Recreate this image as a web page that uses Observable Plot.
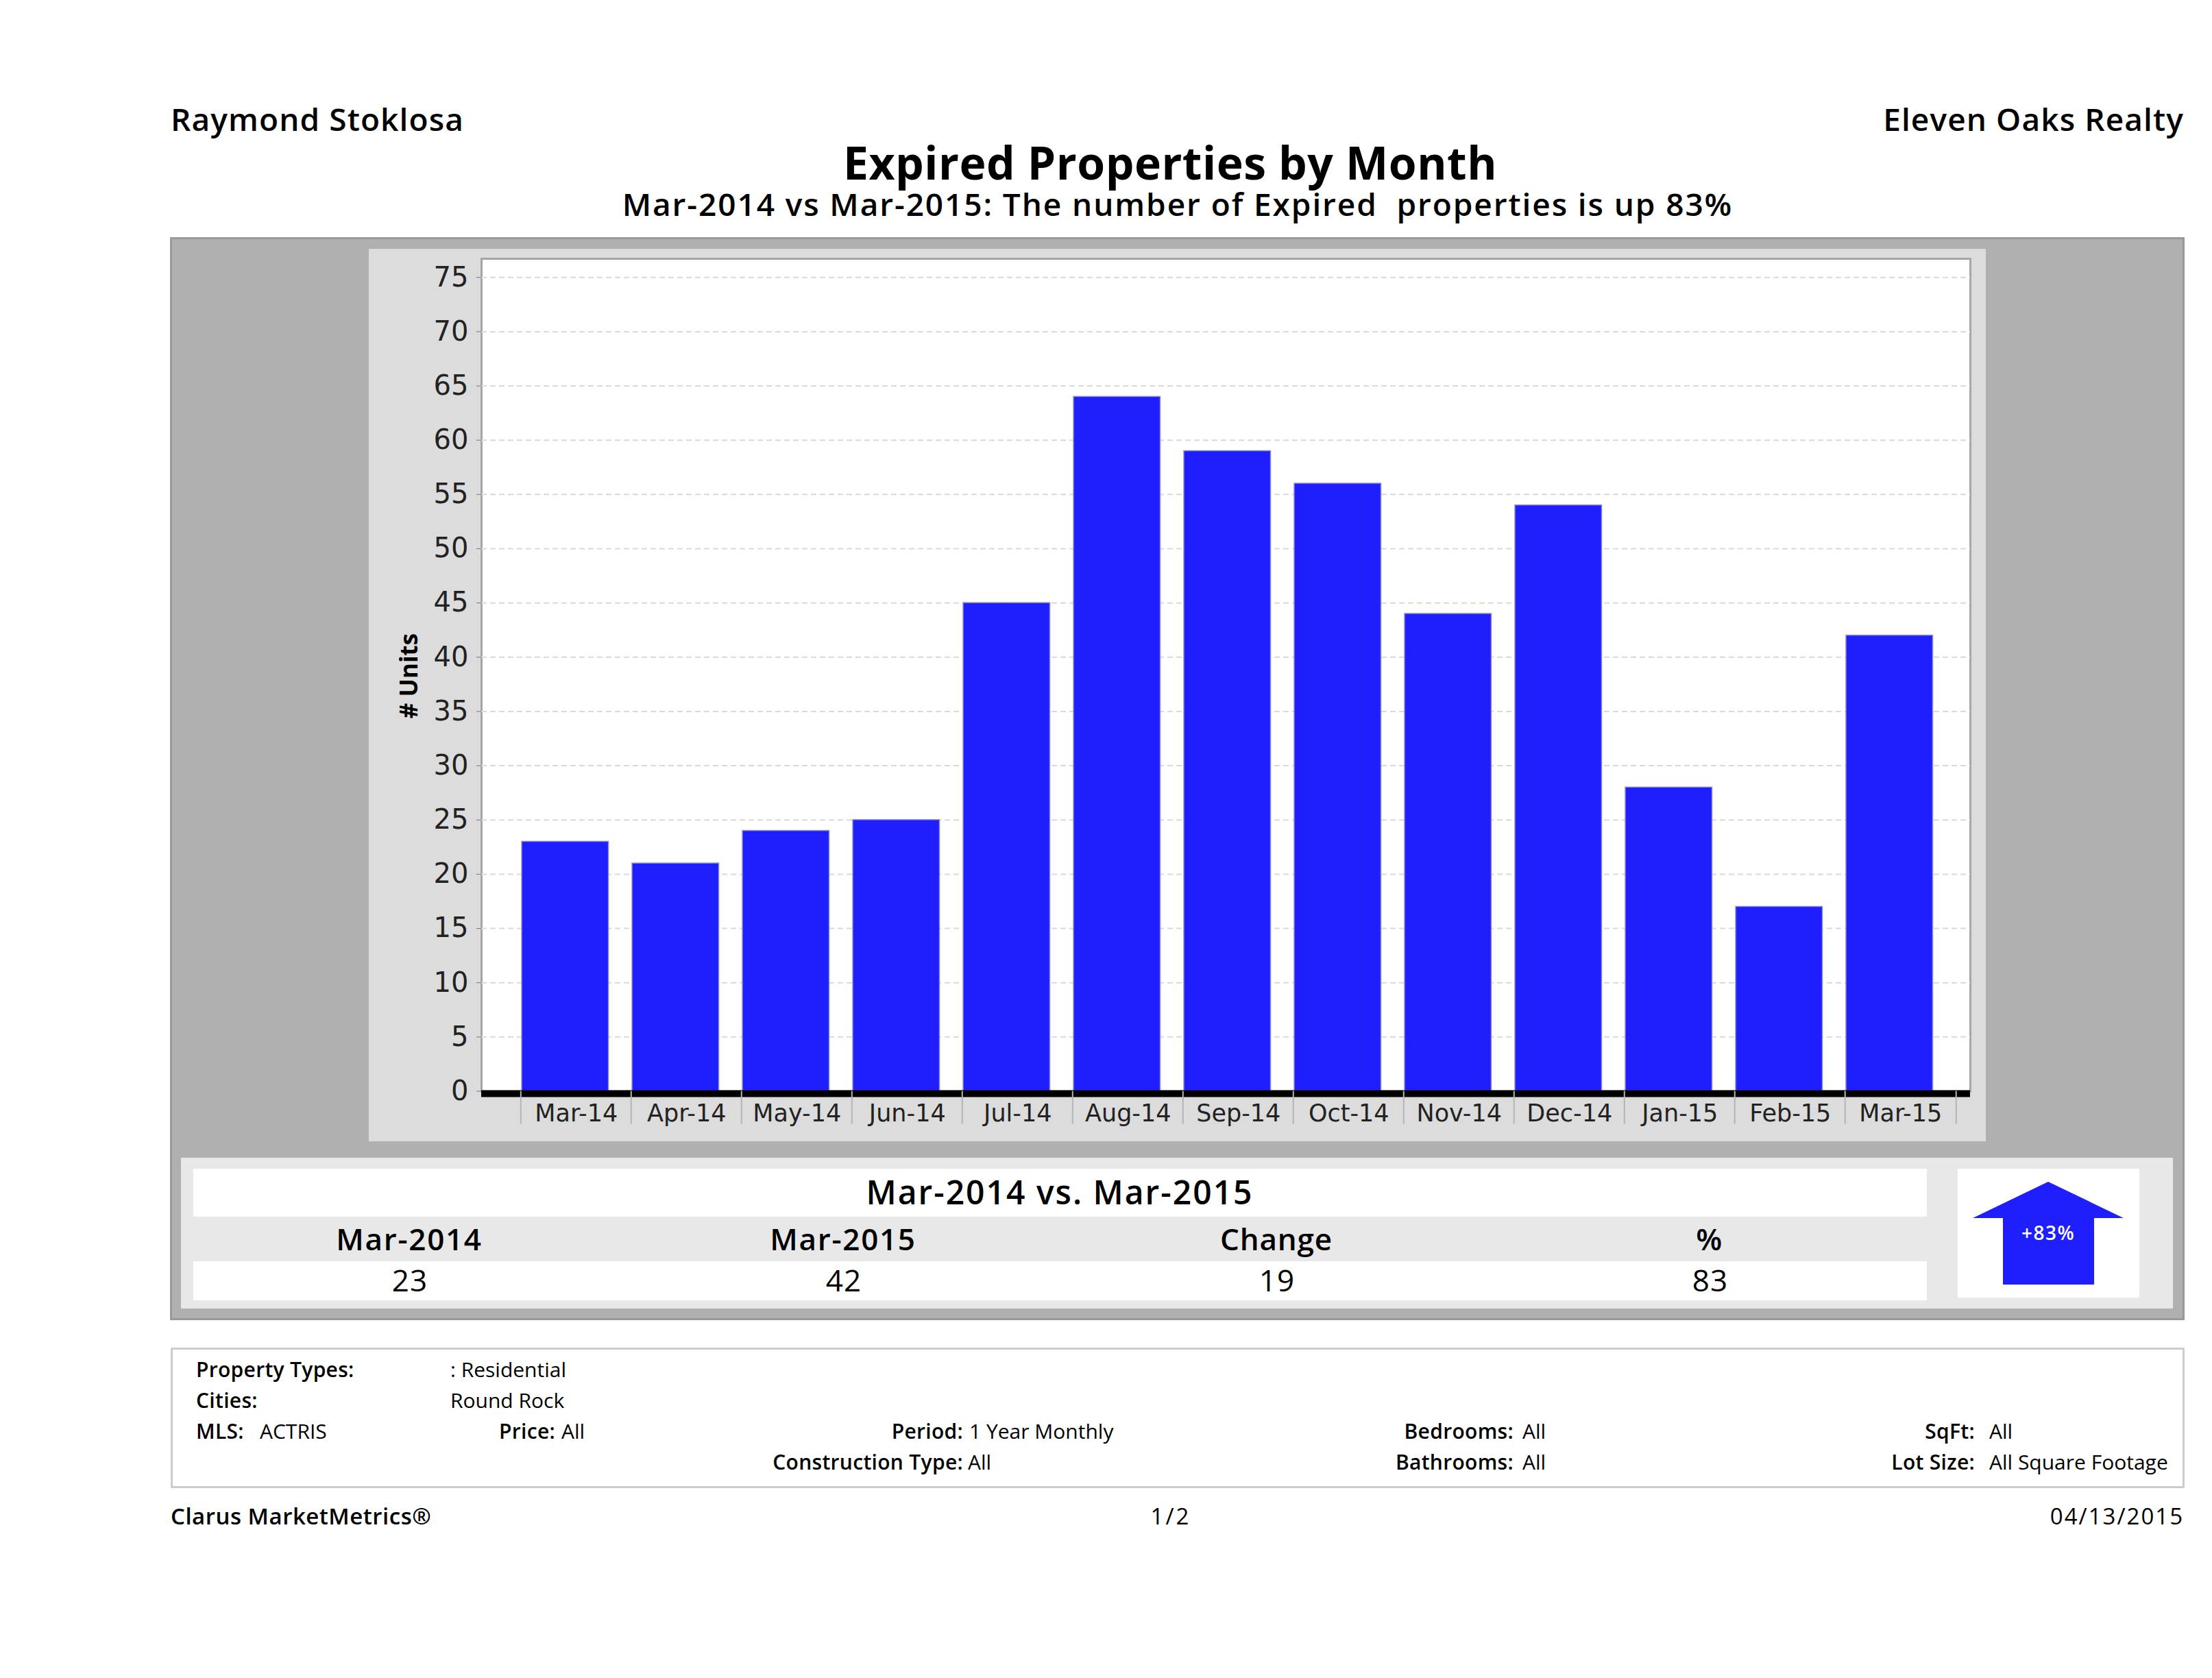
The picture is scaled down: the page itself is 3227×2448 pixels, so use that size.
<!DOCTYPE html>
<html>
<head>
<meta charset="utf-8">
<script src="https://cdn.jsdelivr.net/npm/d3@7"></script>
<script src="https://cdn.jsdelivr.net/npm/@observablehq/plot@0.6"></script>
<style>
html,body{margin:0;padding:0;background:#fff;}
#page{position:relative;width:3227px;height:2448px;overflow:hidden;font-family:"Open Sans",sans-serif;color:#000;}
.box{position:absolute;box-sizing:border-box;}
.t{position:absolute;white-space:pre;line-height:1;}
#chart{position:absolute;left:538px;top:363px;}
#chart svg{display:block;background:#dcdcdc;font-family:"DejaVu Sans",sans-serif !important;}
#chart svg text{font-family:"DejaVu Sans",sans-serif !important;}
</style>
</head>
<body>
<div id="page"></div>
<script>
const months = ["Mar-14","Apr-14","May-14","Jun-14","Jul-14","Aug-14","Sep-14","Oct-14","Nov-14","Dec-14","Jan-15","Feb-15","Mar-15"];
const units = [23,21,24,25,45,64,59,56,44,54,28,17,42];
const yTicks = [0,5,10,15,20,25,30,35,40,45,50,55,60,65,70,75];
const tableHeaders = ["Mar-2014","Mar-2015","Change","%"];
const tableValues = ["23","42","19","83"];

const page = document.getElementById("page");
function box(l,t,r,b,bg,border){
  const d=document.createElement("div");d.className="box";
  d.style.cssText=`left:${l}px;top:${t}px;width:${r-l}px;height:${b-t}px;background:${bg};${border?`border:${border};`:""}`;
  page.appendChild(d);
}
// anchor: 0 left, 0.5 centre, 1 right; y is the vertical centre of the line
function text(s,x,y,size,weight,anchor,color,spacing){
  const d=document.createElement("div");d.className="t";d.textContent=s;
  d.style.cssText=`left:${x}px;top:${y}px;font-size:${size}px;font-weight:${weight};transform:translate(${-anchor*100}%,-50%);color:${color||"#000"};letter-spacing:${spacing||0}px;`;
  page.appendChild(d);
}

text("Raymond Stoklosa",249,173,46,600,0,"#000",1.1);
text("Eleven Oaks Realty",3186,173,46,600,1,"#000",1.1);
text("Expired Properties by Month",1707,236,66,700,0.5,"#000",0.5);
text("Mar-2014 vs Mar-2015: The number of Expired  properties is up 83%",1718,297,46,600,0.5,"#000",1.9);

box(248,346,3187,1926,"#b0b0b0","3px solid #999");
box(264,1689,3170,1909,"#e8e8e8");
box(282,1705,2811,1775,"#fff");
box(282,1840,2811,1897,"#fff");
box(2856,1705,3121,1893,"#fff");

const chartDiv=document.createElement("div");chartDiv.id="chart";page.appendChild(chartDiv);
const bars = months.map((m,i)=>({month:m,units:units[i]}));
const fig = Plot.plot({
  width:2359,height:1302,
  marginLeft:164,marginRight:23,marginTop:14,marginBottom:73.5,
  style:{background:"#dcdcdc",overflow:"visible"},
  x:{type:"band",domain:months,paddingInner:0.214,paddingOuter:0.3525,align:0.52,round:false,label:null},
  y:{domain:[0,76.72],label:null},
  marks:[
    Plot.frame({fill:"#fff",stroke:"#a6a6a6",strokeWidth:3}),
    Plot.gridY(yTicks,{stroke:"#d9d9d9",strokeOpacity:1,strokeDasharray:"8,5",strokeWidth:2}),
    Plot.barY(bars,{x:"month",y:"units",fill:"#1e1eff",stroke:"#8f8fc8",strokeWidth:1.5}),
    Plot.ruleY([0],{stroke:"#000",strokeWidth:10,dy:3.5}),
    Plot.axisY({ticks:yTicks,tickSize:7,tickPadding:12,fontSize:40,stroke:"#777",fill:"#222",label:null}),
    Plot.axisX({tickSize:48,text:null,dx:-65,stroke:"#b5b5b5",strokeWidth:2}),
    Plot.axisX({ticks:months.slice(-1),tickSize:48,text:null,dx:97,stroke:"#b5b5b5",strokeWidth:2}),
    Plot.axisX({tickSize:0,tickPadding:19,fontSize:35,dx:16,fill:"#222"})
  ]
});
chartDiv.appendChild(fig);

text("# Units",595,986,35,700,0.5);
page.lastChild.style.transform="translate(-50%,-50%) rotate(-90deg)";

text("Mar-2014 vs. Mar-2015",1546,1739,48,600,0.5,"#000",2);
const cols=[597,1230,1862,2494];
tableHeaders.forEach((h,i)=>text(h,cols[i],1807,44,600,0.5,"#000",h==="Change"?0.8:1.7));
tableValues.forEach((v,i)=>text(v,cols[i]+1,1867,44,400,0.5,"#000",1.2));

// arrow
const ns="http://www.w3.org/2000/svg";
const arrow=document.createElementNS(ns,"svg");
arrow.setAttribute("width",3227);arrow.setAttribute("height",2448);
arrow.style.cssText="position:absolute;left:0;top:0;";
const poly=document.createElementNS(ns,"polygon");
poly.setAttribute("points","2988,1724 3098,1777 3055,1777 3055,1874 2922,1874 2922,1777 2878,1777");
poly.setAttribute("fill","#1e1eff");
arrow.appendChild(poly);page.appendChild(arrow);
text("+83%",2988,1798,28,600,0.5,"#fff",1.5);

box(249,1966,3187,2171,"#fff","3px solid #ccc");
const fs=30;
const rows=[1998,2043,2088,2133];
text("Property Types:",286,rows[0],fs,600,0,"#000",0.3);
text(": Residential",657,rows[0],fs,400,0);
text("Cities:",286,rows[1],fs,600,0,"#000",0.3);
text("Round Rock",657,rows[1],fs,400,0);
text("MLS:",286,rows[2],fs,600,0,"#000",0.3);
text("ACTRIS",379,rows[2],fs,400,0);
text("Price:",810,rows[2],fs,600,1,"#000",0.3);
text("All",819,rows[2],fs,400,0);
text("Period:",1405,rows[2],fs,600,1,"#000",0.3);
text("1 Year Monthly",1414,rows[2],fs,400,0);
text("Construction Type:",1405,rows[3],fs,600,1,"#000",0.3);
text("All",1412,rows[3],fs,400,0);
text("Bedrooms:",2208,rows[2],fs,600,1,"#000",0.3);
text("All",2221,rows[2],fs,400,0);
text("Bathrooms:",2208,rows[3],fs,600,1,"#000",0.3);
text("All",2221,rows[3],fs,400,0);
text("SqFt:",2881,rows[2],fs,600,1,"#000",0.3);
text("All",2902,rows[2],fs,400,0);
text("Lot Size:",2881,rows[3],fs,600,1,"#000",0.3);
text("All Square Footage",2902,rows[3],fs,400,0);

text("Clarus MarketMetrics\u00AE",249,2211,33,600,0,"#000",0.5);
text("1/2",1708,2211,33,400,0.5,"#000",3);
text("04/13/2015",3186,2211,33,400,1,"#000",2);
</script>
</body>
</html>
